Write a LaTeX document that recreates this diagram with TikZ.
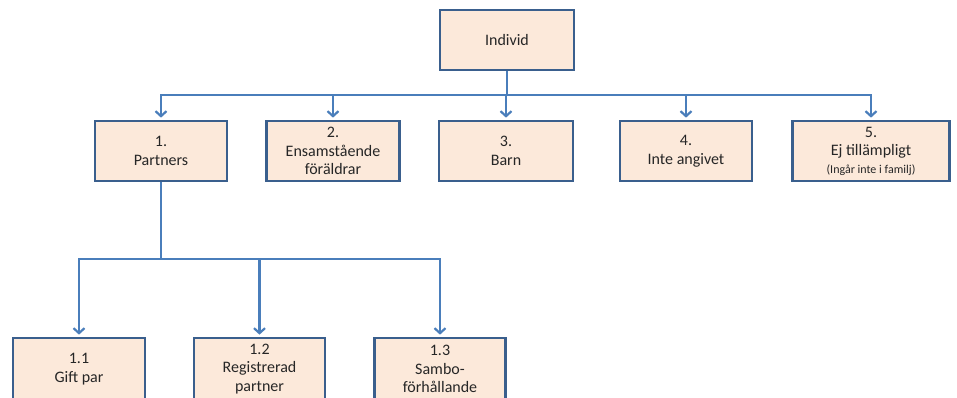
\documentclass[tikz,border=0pt]{standalone}
\usepackage{fontspec}
\setmainfont{Carlito}
\usetikzlibrary{arrows.meta}
\definecolor{boxfill}{HTML}{FCE9DA}
\definecolor{boxline}{HTML}{3A5F8D}
\definecolor{linkblue}{HTML}{4A7EBB}
\begin{document}
\begin{tikzpicture}[x=1pt,y=-1pt,
  box/.style={draw=boxline, fill=boxfill, line width=2.7pt, align=center,
    inner sep=0pt, minimum height=60pt, text=black!85,
    font=\fontsize{16}{18.5}\selectfont},
  link/.style={draw=linkblue, line width=2.7pt,
    -{Straight Barb[length=5pt,width=11pt,line width=2.2pt]}, shorten >=2pt}]
\useasboundingbox (0,0) rectangle (957,398);

% top node
\node[box, minimum width=134pt] (ind) at (507,40) {Individ};

% first level
\node[box, minimum width=132pt] (p1) at (161,151) {1.\\Partners};
\node[box, minimum width=133pt] (p2) at (333,151) {2.\\Ensamstående\\föräldrar};
\node[box, minimum width=134pt] (p3) at (506,151) {3.\\Barn};
\node[box, minimum width=132pt] (p4) at (686,151) {4.\\Inte angivet};
\node[box, minimum width=157pt] (p5) at (871,151)
  {5.\\Ej tillämpligt\\[-1pt]{\fontsize{12}{13}\selectfont(Ingår inte i familj)}};

% second level, under Partners
\node[box, minimum width=132pt, minimum height=62pt] (c1) at (79,369) {1.1\\Gift par};
\node[box, minimum width=131pt, minimum height=62pt] (c2) at (259.5,369) {1.2\\Registrerad\\partner};
\node[box, minimum width=131pt, minimum height=62pt] (c3) at (440,369) {1.3\\Sambo-\\förhållande};

% bus rows
\coordinate (busA) at (0,95);
\coordinate (busB) at (0,259);

% connectors
\foreach \t in {p1,p2,p3,p4,p5}
  \draw[link] (ind.south) -- (ind.south |- busA) -| (\t.north);
\foreach \t in {c1,c2,c3}
  \draw[link] (p1.south) -- (p1.south |- busB) -| (\t.north);
\end{tikzpicture}
\end{document}
